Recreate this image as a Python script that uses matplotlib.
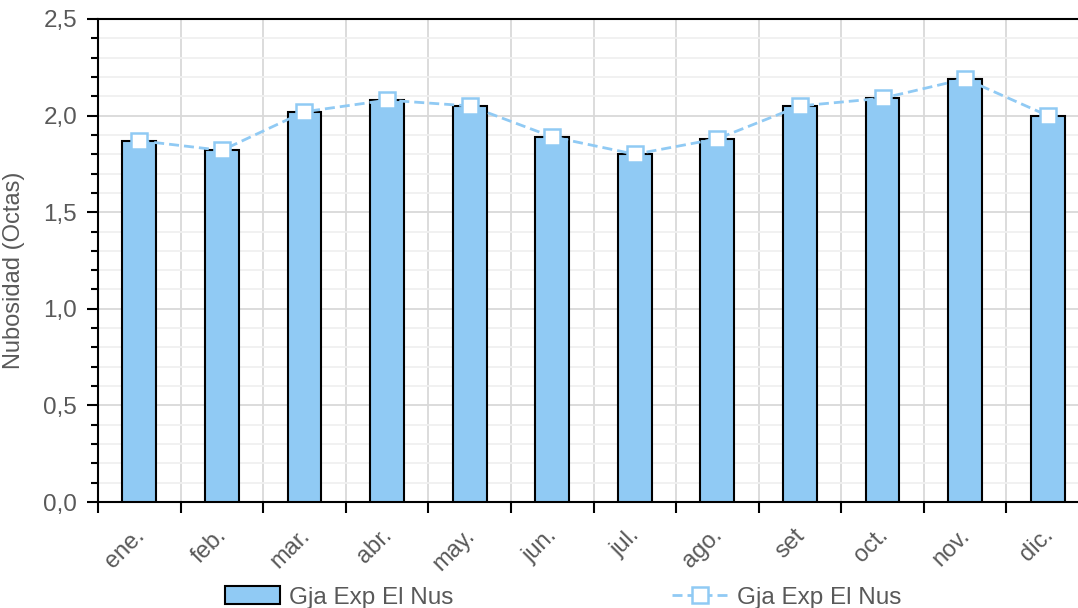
import matplotlib.pyplot as plt
from matplotlib.ticker import FuncFormatter, MultipleLocator, FixedLocator
from matplotlib.patches import Patch
from matplotlib.lines import Line2D
from matplotlib.transforms import ScaledTranslation

plt.rcParams['font.family'] = ['Liberation Sans', 'DejaVu Sans']

months = ["ene.", "feb.", "mar.", "abr.", "may.", "jun.",
          "jul.", "ago.", "set", "oct.", "nov.", "dic."]
bar_vals = [1.87, 1.82, 2.02, 2.08, 2.05, 1.89, 1.80, 1.88, 2.05, 2.09, 2.19, 2.00]
line_vals = [1.87, 1.82, 2.02, 2.08, 2.05, 1.89, 1.80, 1.88, 2.05, 2.09, 2.19, 2.00]
series_name = "Gja Exp El Nus"

gray = "#595959"
bar_color = "#90CAF4"
line_color = "#90CAF4"
dash = (0, (3.6, 1.8))

fig = plt.figure(figsize=(10.78, 6.08), dpi=100)
ax = fig.add_axes([98 / 1078, 1 - 502 / 608, 991 / 1078, 483 / 608])

x = list(range(len(months)))
ax.bar(x, bar_vals, width=0.41, color=bar_color, edgecolor="black", linewidth=1.5, zorder=3)
ax.plot(x, line_vals, color=line_color, linestyle=dash, linewidth=2,
        marker="s", markersize=11, markerfacecolor="white", markeredgecolor=line_color,
        markeredgewidth=1.8, zorder=4)

ax.set_xlim(-0.5, len(months) - 0.5)
ax.set_ylim(0, 2.5)

ax.yaxis.set_major_locator(MultipleLocator(0.5))
ax.yaxis.set_minor_locator(MultipleLocator(0.1))
ax.yaxis.set_major_formatter(FuncFormatter(lambda v, p: f"{v:.1f}".replace(".", ",")))
ax.grid(axis="y", which="major", color="#d9d9d9", linewidth=1.3, zorder=0)
ax.grid(axis="y", which="minor", color="#f0f0f0", linewidth=1.3, zorder=0)

ax.set_xticks(x)
ax.set_xticklabels(months, rotation=45, ha="right", rotation_mode="anchor")
ax.tick_params(axis="x", which="major", length=0, pad=16)
ax.xaxis.set_minor_locator(FixedLocator([i - 0.5 for i in range(len(months) + 1)]))
ax.tick_params(axis="x", which="minor", length=8, width=1.5, color="black", direction="out")
ax.grid(axis="x", which="minor", color="#d9d9d9", linewidth=1.3, zorder=0)
shift = ScaledTranslation(-6 / 100, 0, fig.dpi_scale_trans)
for lbl in ax.get_xticklabels():
    lbl.set_transform(lbl.get_transform() + shift)

ax.tick_params(axis="y", which="major", length=8, width=1.5, color="black",
               labelcolor=gray, labelsize=17.5, pad=7)
ax.tick_params(axis="y", which="minor", length=5, width=1.5, color="black")
ax.tick_params(axis="x", labelsize=17, labelcolor=gray)

for side in ["left", "bottom", "top"]:
    ax.spines[side].set_color("black")
    ax.spines[side].set_linewidth(1.5)
ax.spines["right"].set_visible(False)

ax.set_ylabel("Nubosidad (Octas)", fontsize=17, color=gray)
ax.yaxis.set_label_coords(-73 / 991, 0.48)

handles = [
    Patch(facecolor=bar_color, edgecolor="black", linewidth=1.5),
    Line2D([], [], color=line_color, linestyle=dash, linewidth=2, marker="s",
           markersize=11, markerfacecolor="white", markeredgecolor=line_color,
           markeredgewidth=1.8),
]
fig.legend(handles, [series_name, series_name], loc="lower center", ncol=2,
           bbox_to_anchor=(0.522, -0.037), frameon=False, fontsize=17.5, labelcolor=gray,
           handlelength=2.3, handletextpad=0.35, columnspacing=9.0, handleheight=0.75)

fig.savefig("out.png", dpi=100)
